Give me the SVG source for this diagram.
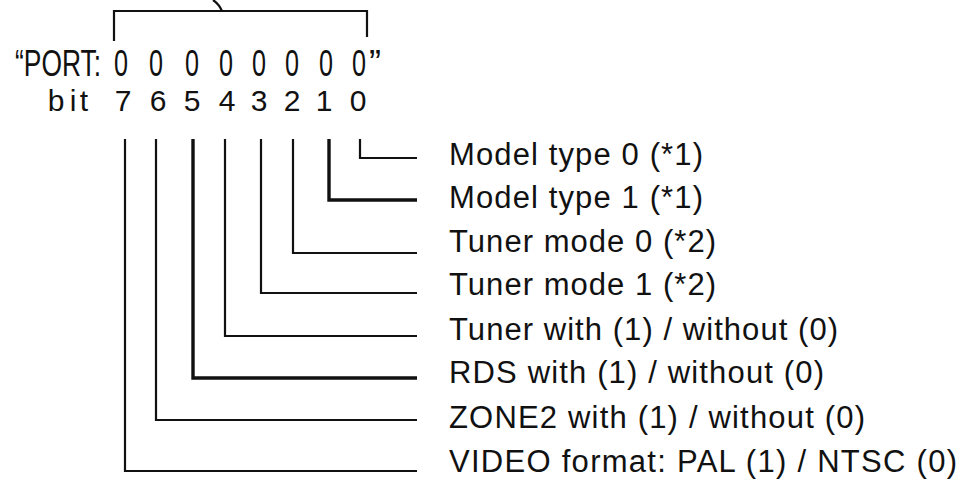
<svg xmlns="http://www.w3.org/2000/svg" width="961" height="485" viewBox="0 0 961 485">
<style>
  text { font-family: "Liberation Sans", Arial, sans-serif; fill: #111; }
  .port { font-size: 36px; }
  .bit { font-size: 30px; }
  .lbl { font-size: 31px; }
  .ln { fill: none; stroke: #111; stroke-width: 2.2; }
  .thick { stroke-width: 3.4; }
</style>
<rect width="961" height="485" fill="#fff"/>
<g id="bracket">
  <path class="ln" d="M114,41 V11 H367 V37"/>
  <path class="ln" d="M222,11 Q219,4 213,0"/>
</g>
<g id="port-string">
  <text class="port" y="76" lengthAdjust="spacingAndGlyphs"><tspan x="15" textLength="86" lengthAdjust="spacingAndGlyphs">“PORT:</tspan><tspan x="114" textLength="14" lengthAdjust="spacingAndGlyphs">0</tspan><tspan x="149" textLength="14" lengthAdjust="spacingAndGlyphs">0</tspan><tspan x="185" textLength="14" lengthAdjust="spacingAndGlyphs">0</tspan><tspan x="219" textLength="14" lengthAdjust="spacingAndGlyphs">0</tspan><tspan x="252" textLength="14" lengthAdjust="spacingAndGlyphs">0</tspan><tspan x="285" textLength="14" lengthAdjust="spacingAndGlyphs">0</tspan><tspan x="319" textLength="14" lengthAdjust="spacingAndGlyphs">0</tspan><tspan x="352" textLength="14" lengthAdjust="spacingAndGlyphs">0</tspan><tspan x="369">”</tspan></text>
</g>
<g id="bit-row">
  <text class="bit" text-anchor="middle" y="111" x="56 73 84 123 158 192 227 259 292 324 358">bit76543210</text>
</g>
<g id="connectors">
  <path class="ln" d="M360,139 V158 H417"/>
  <path class="ln thick" d="M329,139 V200 H417"/>
  <path class="ln" d="M293,139 V253 H417"/>
  <path class="ln" d="M261,139 V293 H417"/>
  <path class="ln" d="M225,139 V336 H417"/>
  <path class="ln thick" d="M193,139 V378 H417"/>
  <path class="ln" d="M156,139 V420 H417"/>
  <path class="ln" d="M125,139 V471 H417"/>
</g>
<g id="label-bit0"><text class="lbl" x="449" y="165" textLength="254">Model type 0 (*1)</text></g>
<g id="label-bit1"><text class="lbl" x="449" y="208" textLength="254">Model type 1 (*1)</text></g>
<g id="label-bit2"><text class="lbl" x="449" y="252" textLength="267">Tuner mode 0 (*2)</text></g>
<g id="label-bit3"><text class="lbl" x="449" y="295" textLength="267">Tuner mode 1 (*2)</text></g>
<g id="label-bit4"><text class="lbl" x="449" y="340" textLength="389">Tuner with (1) / without (0)</text></g>
<g id="label-bit5"><text class="lbl" x="449" y="383" textLength="375">RDS with (1) / without (0)</text></g>
<g id="label-bit6"><text class="lbl" x="449" y="428" textLength="416">ZONE2 with (1) / without (0)</text></g>
<g id="label-bit7"><text class="lbl" x="449" y="472" textLength="508">VIDEO format: PAL (1) / NTSC (0)</text></g>
</svg>
